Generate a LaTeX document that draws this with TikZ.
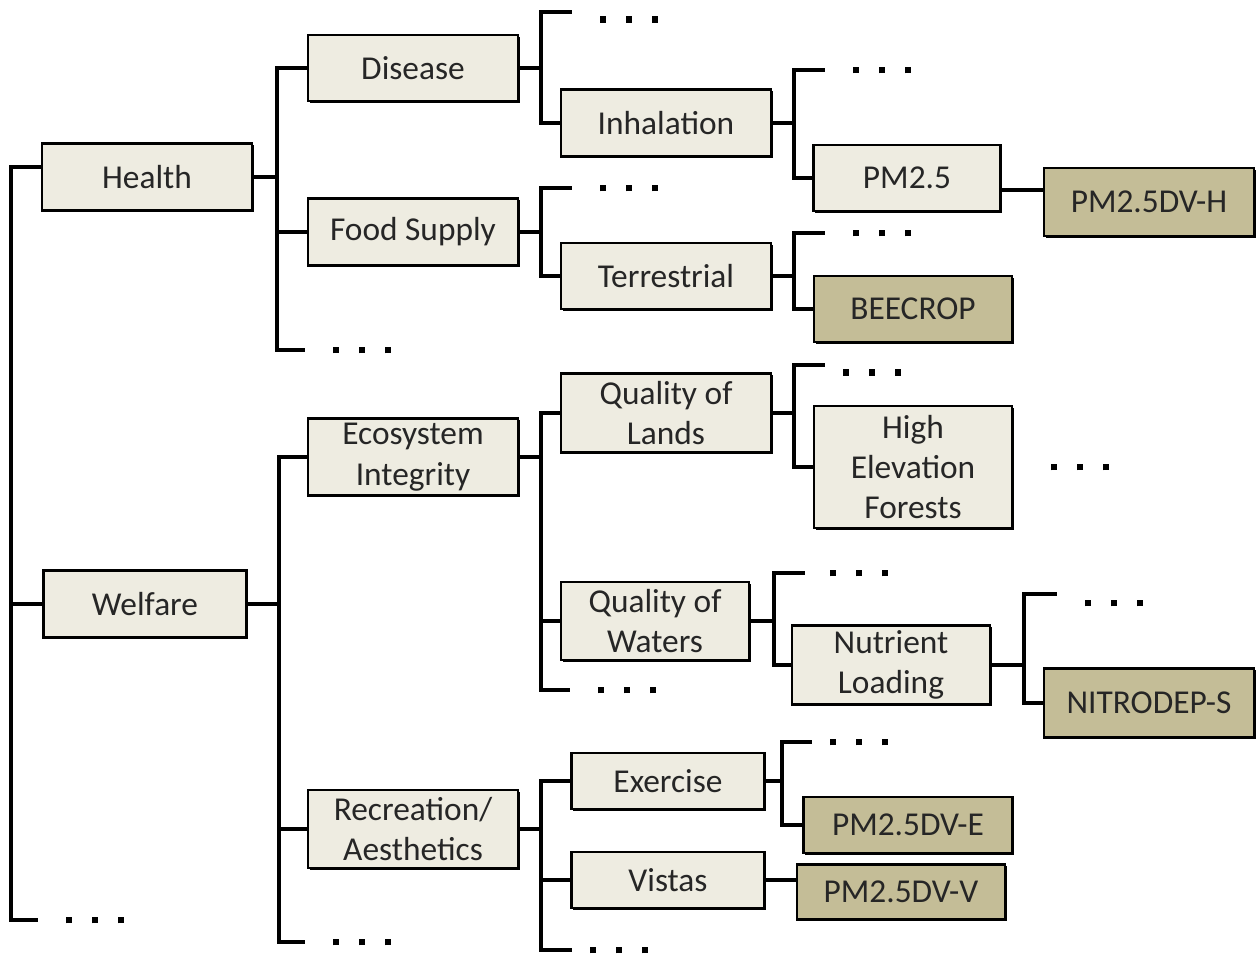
\documentclass[tikz,border=0pt]{standalone}
\usepackage{fontspec}
\setmainfont{Carlito}
\usetikzlibrary{positioning,shadows}

\definecolor{boxfill}{RGB}{238,236,225}
\definecolor{leaffill}{RGB}{196,189,151}
\definecolor{textgray}{RGB}{38,38,38}

\newcommand{\dotrow}{\rule{0.12cm}{0.13cm}\hspace{0.4cm}\rule{0.12cm}{0.13cm}\hspace{0.4cm}\rule{0.12cm}{0.13cm}}

\tikzset{
    box/.style={draw, line width=1.6pt, fill=boxfill, text=textgray, align=center,
        inner sep=0pt, minimum width=4.2cm, minimum height=1.34cm,
        font=\fontsize{19}{23}\selectfont,
        drop shadow={shadow xshift=1.1pt, shadow yshift=-1.1pt, fill=black, opacity=1}},
    leaf/.style={box, fill=leaffill},
    conn/.style={line width=2.2pt},
    dots/.style={inner sep=0pt}
}

\begin{document}
\begin{tikzpicture}[x=0.02cm, y=-0.02cm]
        \useasboundingbox (0,0) rectangle (1260,957);

        \node[box] (health) at (147,177) {Health};
        \node[box, minimum width=4.06cm] (welfare) at (145,604) {Welfare};

        \node[box, minimum height=1.32cm] (disease) at (413,68) {Disease};
        \node[box] (food) at (413,232) {Food Supply};
        \node[box, minimum height=1.54cm] (eco) at (413,457) {Ecosystem\\Integrity};
        \node[box, minimum height=1.56cm] (recr) at (413,829) {Recreation/\\Aesthetics};

        \node[box] (inhal) at (666,123) {Inhalation};
        \node[box, minimum height=1.32cm] (terr) at (666,276) {Terrestrial};
        \node[box, minimum height=1.58cm] (qlands) at (666,413) {Quality of\\Lands};
        \node[box, minimum width=3.76cm, minimum height=1.56cm] (qwaters) at (655,621) {Quality of\\Waters};
        \node[box, minimum width=3.86cm, minimum height=1.12cm] (exer) at (668,781) {Exercise};
        \node[box, minimum width=3.86cm, minimum height=1.12cm] (vistas) at (668,880) {Vistas};

        \node[box, minimum width=3.74cm, minimum height=1.32cm] (pm25) at (907,178) {PM2.5};
        \node[leaf, minimum width=3.96cm, minimum height=1.32cm] (beecrop) at (913,309) {BEECROP};
        \node[box, minimum width=3.96cm, minimum height=2.44cm] (highel) at (913,467) {High\\Elevation\\Forests};
        \node[box, minimum width=3.96cm, minimum height=1.58cm] (nutr) at (891,665) {Nutrient\\Loading};

        \node[leaf, minimum height=1.36cm] (dvh) at (1149,202) {PM2.5DV-H};
        \node[leaf, minimum height=1.38cm] (nitro) at (1149,703) {NITRODEP-S};
        \node[leaf, minimum width=4.18cm, minimum height=1.12cm] (dve) at (908,825) {PM2.5DV-E};
        \node[leaf, minimum width=4.16cm, minimum height=1.1cm] (dvv) at (901,892) {PM2.5DV-V};

        % open branches
        \coordinate (r3) at (38,920);
        \coordinate (h3) at (305,350);
        \coordinate (w3) at (305,942);
        \coordinate (dis1) at (572,12);
        \coordinate (inh1) at (825,70);
        \coordinate (food1) at (572,188);
        \coordinate (terr1) at (825,233);
        \coordinate (eco3) at (570,690);
        \coordinate (ql1) at (825,365);
        \coordinate (qw1) at (805,573);
        \coordinate (nu1) at (1057,594);
        \coordinate (ex1) at (812,742);
        \coordinate (rec3) at (572,950);

        \node[dots, right=0.56cm of r3] (r3d) {\dotrow};
        \node[dots, right=0.56cm of h3] (h3d) {\dotrow};
        \node[dots, right=0.56cm of w3] (w3d) {\dotrow};
        \node[dots, right=0.56cm of dis1, yshift=-0.15cm] (dis1d) {\dotrow};
        \node[dots, right=0.56cm of inh1] (inh1d) {\dotrow};
        \node[dots, right=0.56cm of food1] (food1d) {\dotrow};
        \node[dots, right=0.56cm of terr1] (terr1d) {\dotrow};
        \node[dots, right=0.56cm of eco3] (eco3d) {\dotrow};
        \node[dots, right=0.36cm of ql1, yshift=-0.15cm] (ql1d) {\dotrow};
        \node[dots, right=0.5cm of qw1] (qw1d) {\dotrow};
        \node[dots, right=0.56cm of nu1, yshift=-0.18cm] (nu1d) {\dotrow};
        \node[dots, right=0.36cm of ex1] (ex1d) {\dotrow};
        \node[dots, right=0.36cm of rec3] (rec3d) {\dotrow};
        \node[dots, right=0.75cm of highel] (hed) {\dotrow};

        % brackets
        \draw[conn] ([yshift=0.2cm]health.west) -- ++(-30,0) |- (welfare);
        \draw[conn] ([yshift=0.2cm]health.west) -- ++(-30,0) |- (r3);

        \draw[conn] (health.east) -- ++(24,0) |- (disease);
        \draw[conn] (health.east) -- ++(24,0) |- (food);
        \draw[conn] (health.east) -- ++(24,0) |- (h3);

        \draw[conn] (welfare.east) -- ++(31,0) |- (eco);
        \draw[conn] (welfare.east) -- ++(31,0) |- (recr);
        \draw[conn] (welfare.east) -- ++(31,0) |- (w3);

        \draw[conn] (disease.east) -- ++(22,0) |- (dis1);
        \draw[conn] (disease.east) -- ++(22,0) |- (inhal);
        \draw[conn] (inhal.east) -- ++(22,0) |- (inh1);
        \draw[conn] (inhal.east) -- ++(22,0) |- (pm25);
        \draw[conn] ([yshift=-0.24cm]pm25.east) -- ([yshift=-0.24cm]pm25.east -| dvh.west);

        \draw[conn] (food.east) -- ++(22,0) |- (food1);
        \draw[conn] (food.east) -- ++(22,0) |- (terr);
        \draw[conn] (terr.east) -- ++(22,0) |- (terr1);
        \draw[conn] (terr.east) -- ++(22,0) |- (beecrop);

        \draw[conn] (eco.east) -- ++(22,0) |- (qlands);
        \draw[conn] (eco.east) -- ++(22,0) |- (qwaters);
        \draw[conn] (eco.east) -- ++(22,0) |- (eco3);
        \draw[conn] (qlands.east) -- ++(22,0) |- (ql1);
        \draw[conn] (qlands.east) -- ++(22,0) |- (highel);
        \draw[conn] (qwaters.east) -- ++(24,0) |- (qw1);
        \draw[conn] (qwaters.east) -- ++(24,0) |- (nutr);
        \draw[conn] (nutr.east) -- ++(33,0) |- (nu1);
        \draw[conn] (nutr.east) -- ++(33,0) |- (nitro);

        \draw[conn] (recr.east) -- ++(22,0) |- (exer);
        \draw[conn] (recr.east) -- ++(22,0) |- (vistas);
        \draw[conn] (recr.east) -- ++(22,0) |- (rec3);
        \draw[conn] (exer.east) -- ++(16,0) |- (ex1);
        \draw[conn] (exer.east) -- ++(16,0) |- (dve);
        \draw[conn] (vistas.east) -- (vistas.east -| dvv.west);
    \end{tikzpicture}
\end{document}
